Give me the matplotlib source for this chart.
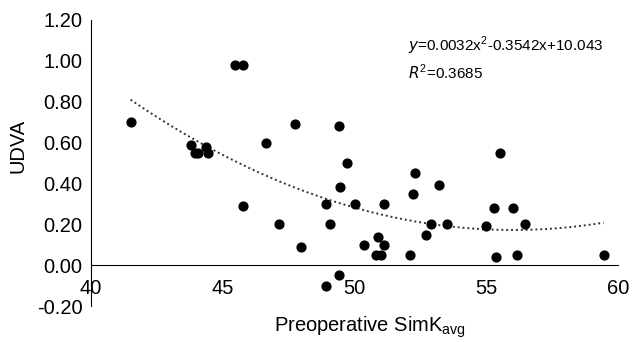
import numpy as np
import matplotlib.pyplot as plt

plt.rcParams['font.family'] = ['Liberation Sans', 'DejaVu Sans']

# preoperative SimK avg vs UDVA
simk = [41.5, 43.8, 43.95, 44.05, 44.35, 44.45, 45.45, 45.75, 45.75, 46.65,
        47.15, 47.75, 47.95, 48.9, 48.9, 49.05, 49.4, 49.4, 49.45, 49.7,
        50.0, 50.35, 50.8, 50.9, 51.0, 51.1, 51.1, 52.1, 52.2, 52.3,
        52.7, 52.9, 53.2, 53.5, 55.0, 55.3, 55.35, 55.5, 56.0, 56.15,
        56.45, 59.45]
udva = [0.70, 0.59, 0.55, 0.55, 0.58, 0.55, 0.98, 0.98, 0.29, 0.60,
        0.20, 0.69, 0.09, 0.30, -0.10, 0.20, 0.68, -0.05, 0.38, 0.50,
        0.30, 0.10, 0.05, 0.14, 0.05, 0.30, 0.10, 0.05, 0.35, 0.45,
        0.15, 0.20, 0.39, 0.20, 0.19, 0.28, 0.04, 0.55, 0.28, 0.05,
        0.20, 0.05]
xticks = [40, 45, 50, 55, 60]
yticks = [-0.2, 0.0, 0.2, 0.4, 0.6, 0.8, 1.0, 1.2]

fig = plt.figure(figsize=(6.32, 3.42), dpi=100)
ax = fig.add_axes([0.144, 0.105, 0.834, 0.837])

ax.scatter(simk, udva, s=40, color='black', zorder=3)

# quadratic trend line
coef = np.polyfit(simk, udva, 2)
xs = np.linspace(min(simk), max(simk), 200)
ax.plot(xs, np.polyval(coef, xs), linestyle=(0, (1, 1.5)), color='#333333', lw=1.4)

ax.set_xlim(40, 60)
ax.set_ylim(-0.2, 1.2)
ax.set_xticks(xticks)
ax.set_yticks(yticks)
ax.set_yticklabels(['%.2f' % v for v in yticks])
ax.spines['bottom'].set_position(('data', 0))
ax.spines['top'].set_visible(False)
ax.spines['right'].set_visible(False)
ax.tick_params(length=0, labelsize=14.5)
ax.tick_params(axis='x', pad=10)
ax.tick_params(axis='y', pad=6)

ax.set_xlabel('Preoperative SimK$_{\\mathregular{avg}}$', fontsize=14.5)
ax.xaxis.set_label_coords(0.53, -0.03)
ax.set_ylabel('UDVA', fontsize=14.5)
ax.yaxis.set_label_coords(-0.12, 0.56)

ax.text(0.602, 0.89, '$\\it{y}$=0.0032x$^{\\mathregular{2}}$-0.3542x+10.043',
        transform=ax.transAxes, fontsize=11)
ax.text(0.602, 0.795, '$\\it{R}^{\\mathregular{2}}$=0.3685',
        transform=ax.transAxes, fontsize=11)

fig.savefig('out.png', dpi=100)
